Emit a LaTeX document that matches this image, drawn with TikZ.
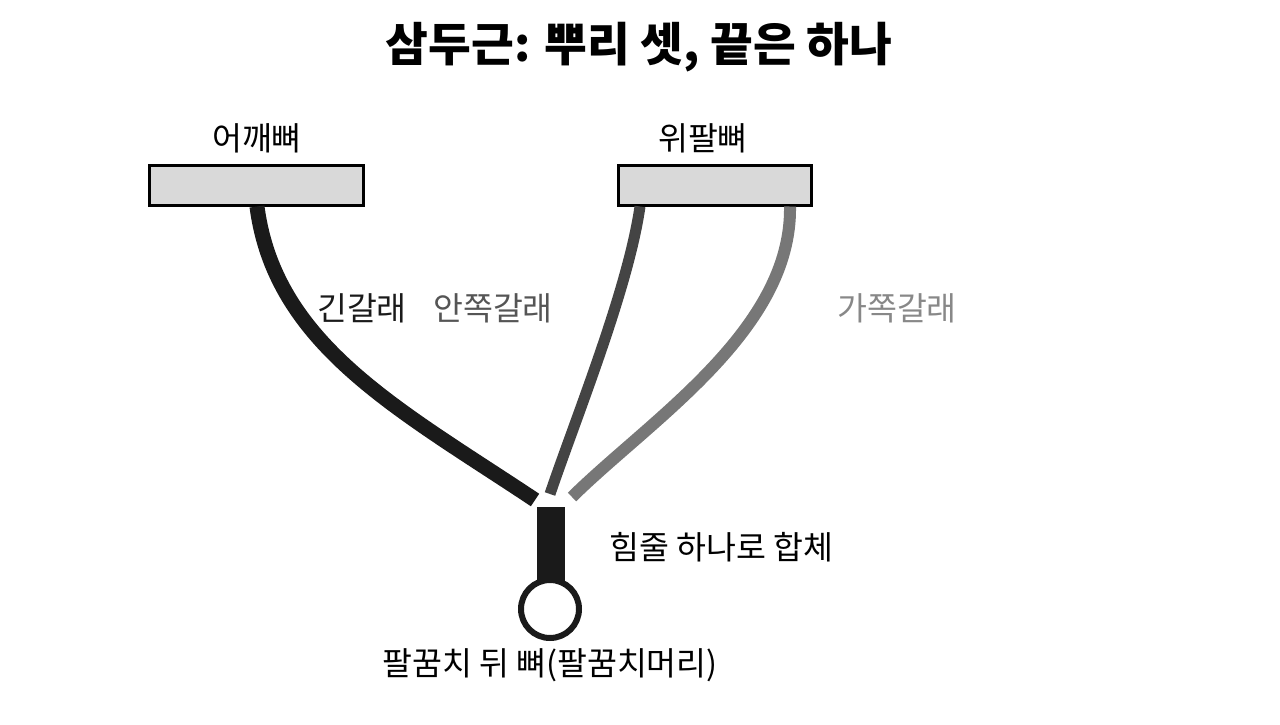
\documentclass[tikz,border=0pt]{standalone}
\usepackage{fontspec}
\newfontfamily\kr{Noto Sans CJK KR}
\definecolor{boxfill}{HTML}{D9D9D9}
\definecolor{longc}{HTML}{1A1A1A}
\definecolor{innerc}{HTML}{444444}
\definecolor{latc}{HTML}{777777}
\definecolor{innert}{HTML}{555555}
\definecolor{latt}{HTML}{888888}
\begin{document}
\begin{tikzpicture}[x=1pt,y=-1pt,
  bone/.style={draw=black,line width=3pt,fill=boxfill,inner sep=0pt},
  lbl/.style={font=\kr\fontsize{32.5}{35}\selectfont,inner sep=0pt,anchor=center},
  head/.style={line cap=butt}]
\useasboundingbox (0,0) rectangle (1280,725);
\node[font=\kr\bfseries\fontsize{46.5}{50}\selectfont,inner sep=0pt] (title) at (639,47) {삼두근: 뿌리 셋, 끝은 하나};
\node[bone,minimum width=214pt,minimum height=40pt] (scap) at (256,185) {};
\node[bone,minimum width=193pt,minimum height=40pt] (hum) at (714.5,185) {};
\node[lbl] (scapl) at (257,138) {어깨뼈};
\node[lbl] (huml) at (703,138) {위팔뼈};
\coordinate (lt) at (257,206.5);
\coordinate (it) at (640,206.5);
\coordinate (tt) at (790,206.5);
\coordinate (le) at (535,500);
\coordinate (ie) at (550,494);
\coordinate (te) at (572,497);
\draw[head,draw=longc,line width=15pt] (lt) .. controls (275,345) and (400,410) .. (le);
\draw[head,draw=innerc,line width=11pt] (it) .. controls (628,290) and (575,420) .. (ie);
\draw[head,draw=latc,line width=12pt] (tt) .. controls (792,330) and (650,420) .. (te);
\node[draw=none,fill=longc,minimum width=28pt,minimum height=76pt,inner sep=0pt,anchor=north] (tendon) at (551,507) {};
\node[circle,draw=longc,line width=6pt,fill=white,minimum size=58pt,inner sep=0pt] (olec) at (550,609) {};
\node[lbl,text=longc] (longl) at (362,308) {긴갈래};
\node[lbl,text=innert] (innerl) at (493,308) {안쪽갈래};
\node[lbl,text=latt] (latl) at (897,308) {가쪽갈래};
\node[lbl,anchor=west] (merge) at (609,547) {힘줄 하나로 합체};
\node[lbl] (olecl) at (550,665) {팔꿈치 뒤 뼈(팔꿈치머리)};
\end{tikzpicture}
\end{document}
